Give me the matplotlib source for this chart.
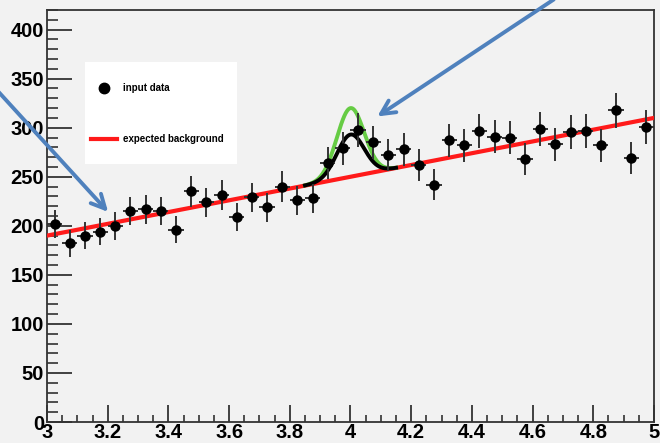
import numpy as np
import matplotlib
matplotlib.use("Agg")
from matplotlib import pyplot as plt
from matplotlib.ticker import MultipleLocator

# binned counts, bins of width 0.05 from 3 to 5
bin_centers = np.arange(3.025, 5.0, 0.05)
counts = [202, 182, 190, 194, 200, 215, 217, 215, 196, 235,
          224, 231, 209, 229, 219, 240, 226, 228, 264, 279,
          298, 285, 272, 278, 262, 242, 287, 282, 297, 291,
          290, 268, 299, 283, 296, 297, 282, 318, 269, 301]
bin_half = 0.025

# background line and signal shapes
bkg_x = [3.0, 5.0]
bkg_y = [190, 310]
peak_mu = 4.0
peak_sigma = 0.045
amp_black = 43
amp_green = 70

plt.rcParams['font.family'] = ['Liberation Sans', 'DejaVu Sans']
bg = '#f2f2f2'
fig = plt.figure(figsize=(6.6, 4.43), dpi=100, facecolor=bg)
ax = fig.add_axes([47/660, 21/443, 607/660, 412/443], facecolor=bg)

errs = np.sqrt(counts)
ax.errorbar(bin_centers, counts, yerr=errs, xerr=bin_half, fmt='o', color='black',
            ecolor='#333333', elinewidth=1.4, ms=6.5, capsize=0, zorder=4)

ax.plot(bkg_x, bkg_y, color='#ff1a1a', lw=3, zorder=3)

xs = np.linspace(3.85, 4.15, 200)
base = np.interp(xs, bkg_x, bkg_y)
g = np.exp(-0.5 * ((xs - peak_mu) / peak_sigma) ** 2)
ax.plot(xs, base + amp_green * g, color='#66cc44', lw=2.8, zorder=3)
ax.plot(xs, base + amp_black * g, color='black', lw=2.8, zorder=3)

ax.set_xlim(3, 5)
ax.set_ylim(0, 420)
ax.xaxis.set_major_locator(MultipleLocator(0.2))
ax.xaxis.set_minor_locator(MultipleLocator(0.05))
ax.yaxis.set_major_locator(MultipleLocator(50))
ax.yaxis.set_minor_locator(MultipleLocator(10))
ax.set_xticks(np.arange(3, 5.01, 0.2))
ax.set_xticklabels(['3', '3.2', '3.4', '3.6', '3.8', '4', '4.2', '4.4', '4.6', '4.8', '5'])
ax.tick_params(which='both', direction='in', top=False, right=False, color='#333333',
               labelsize=14.5)
ax.tick_params(axis='y', which='major', length=18, width=1.3, pad=2)
ax.tick_params(axis='y', which='minor', length=8, width=1.2)
ax.tick_params(axis='x', which='major', length=12, width=1.3, pad=1)
ax.tick_params(axis='x', which='minor', length=5, width=1.2)
for lbl in ax.get_xticklabels() + ax.get_yticklabels():
    lbl.set_fontweight('bold')
for s in ax.spines.values():
    s.set_color('#333333')
    s.set_linewidth(1.3)

# legend box
fig.patches.append(plt.Rectangle((85/660, 1 - 164/443), 152/660, 102/443,
                                 transform=fig.transFigure, facecolor='white',
                                 edgecolor='none', zorder=5))
fig.lines.append(plt.Line2D([104/660], [1 - 88/443], marker='o', ms=7.5, color='black',
                            transform=fig.transFigure, zorder=6))
fig.lines.append(plt.Line2D([91/660, 117/660], [1 - 139/443, 1 - 139/443], color='#ff1a1a',
                            lw=3, transform=fig.transFigure, zorder=6))
fig.text(123/660, 1 - 88/443, 'input data', fontsize=7, fontweight='bold', va='center', zorder=6)
fig.text(123/660, 1 - 139/443, 'expected background', fontsize=7, fontweight='bold',
         va='center', zorder=6)

# arrows
arrow_col = '#4f81bd'
for tail, head in [((-5, 443 - 88), (110, 443 - 214)), ((556, 445), (375, 443 - 118))]:
    ax.annotate('', xy=head, xytext=tail, xycoords='figure pixels', textcoords='figure pixels',
                arrowprops=dict(arrowstyle='->,head_length=1.0,head_width=0.5',
                                color=arrow_col, lw=2.8), annotation_clip=False, zorder=7)

fig.savefig('out.png', dpi=100, facecolor=bg)
